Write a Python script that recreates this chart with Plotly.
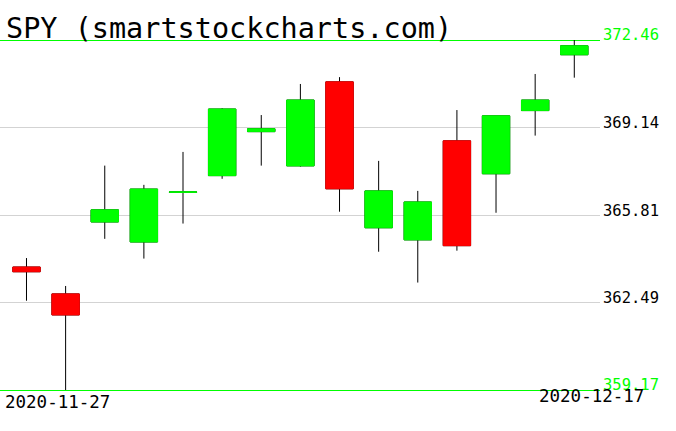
import plotly.graph_objects as go

dates = ["2020-11-27", "2020-11-30", "2020-12-01", "2020-12-02", "2020-12-03",
         "2020-12-04", "2020-12-07", "2020-12-08", "2020-12-09", "2020-12-10",
         "2020-12-11", "2020-12-14", "2020-12-15", "2020-12-16", "2020-12-17"]
opens = [363.84, 362.82, 365.55, 364.79, 366.68, 367.31, 368.98, 367.68,
         370.87, 365.33, 364.87, 368.63, 367.38, 369.78, 371.90]
highs = [364.18, 363.12, 367.69, 366.96, 368.21, 369.87, 369.61, 370.79,
         371.05, 367.87, 366.73, 369.80, 369.58, 371.17, 372.46]
lows = [362.56, 359.17, 364.91, 364.16, 365.49, 367.19, 367.69, 367.65,
        365.94, 364.42, 363.25, 364.46, 365.90, 368.83, 371.03]
closes = [363.66, 362.02, 366.01, 366.80, 366.69, 369.84, 369.09, 370.18,
          366.81, 366.73, 366.31, 364.65, 369.58, 370.18, 372.24]

inner_ticks = [362.49, 365.81, 369.14]
inner_labels = ["362.49", "365.81", "369.14"]
edge_ticks = [359.17, 372.46]
edge_labels = ["359.17", "372.46"]
date_labels = [dates[0], dates[-1]]
title_text = "SPY (smartstockcharts.com)"

GREEN = "#00ff00"
RED = "#ff0000"
FONT = "DejaVu Sans Mono"

body_hi = [max(o, c) for o, c in zip(opens, closes)]
body_lo = [min(o, c) for o, c in zip(opens, closes)]

fig = go.Figure()
# wicks (black) — the body part gets covered by the coloured bodies
fig.add_trace(go.Candlestick(
    x=dates, open=opens, high=highs, low=lows, close=closes,
    increasing=dict(line=dict(color="black", width=1), fillcolor="black"),
    decreasing=dict(line=dict(color="black", width=1), fillcolor="black"),
    whiskerwidth=0, hoverinfo="skip", showlegend=False))
# coloured bodies
fig.add_trace(go.Candlestick(
    x=dates, open=opens, high=body_hi, low=body_lo, close=closes,
    increasing=dict(line=dict(color=GREEN, width=1), fillcolor=GREEN),
    decreasing=dict(line=dict(color=RED, width=1), fillcolor=RED),
    whiskerwidth=0, hoverinfo="skip", showlegend=False))

pad = 2 / 26.34
yr = [min(edge_ticks) - pad, max(edge_ticks) + pad]

fig.update_layout(
    width=676, height=431,
    margin=dict(l=0, r=76, t=38, b=39),
    paper_bgcolor="white", plot_bgcolor="white",
    showlegend=False, hovermode=False,
    boxgap=0.3, boxgroupgap=0,
    xaxis=dict(type="category", range=[-0.677, 14.657], showgrid=False,
               showticklabels=False, zeroline=False, showline=False,
               rangeslider=dict(visible=False), fixedrange=True),
    yaxis=dict(range=yr, side="right", tickvals=inner_ticks, ticktext=inner_labels,
               showgrid=True, gridcolor="#d3d3d3", gridwidth=1, zeroline=False,
               showline=False, ticks="", ticklabelstandoff=2, ticklabelshift=-5,
               tickfont=dict(family=FONT, size=15.5, color="black"), fixedrange=True),
    yaxis2=dict(range=yr, overlaying="y", side="right", tickvals=edge_ticks,
                ticktext=edge_labels, showgrid=True, gridcolor=GREEN, gridwidth=1,
                zeroline=False, showline=False, ticks="", ticklabelstandoff=2,
                ticklabelshift=-5,
                tickfont=dict(family=FONT, size=15.5, color=GREEN), fixedrange=True),
)
# invisible trace to activate yaxis2
fig.add_trace(go.Scatter(x=[dates[0]], y=[edge_ticks[0]], yaxis="y2", mode="markers",
                         marker=dict(opacity=0), hoverinfo="skip", showlegend=False))

fig.add_annotation(text=title_text, xref="paper", yref="paper", x=0, y=1,
                   xanchor="left", yanchor="bottom", xshift=4, yshift=-9,
                   showarrow=False, font=dict(family=FONT, size=28.5, color="black"))
fig.add_annotation(text=date_labels[0], xref="paper", yref="paper", x=0, y=0,
                   xanchor="left", yanchor="top", xshift=3, yshift=2,
                   showarrow=False, font=dict(family=FONT, size=17.5, color="black"))
fig.add_annotation(text=date_labels[1], xref="paper", yref="paper", x=646 / 600, y=0,
                   xanchor="right", yanchor="top", xshift=0, yshift=8,
                   showarrow=False, font=dict(family=FONT, size=17.5, color="black"))

fig.write_html("out.html", config={"displayModeBar": False},
               post_script="document.body.style.margin='0px';")
